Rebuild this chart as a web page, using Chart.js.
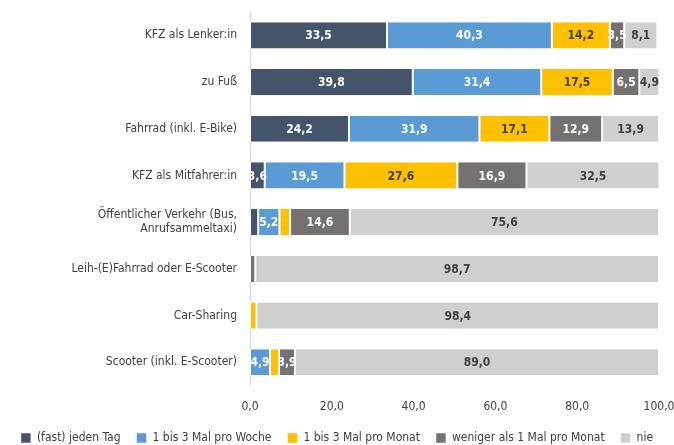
<!DOCTYPE html>
<html>
<head>
<meta charset="utf-8">
<script src="https://cdn.jsdelivr.net/npm/chart.js@4.4.0/dist/chart.umd.min.js"></script>
<style>
  html, body { margin: 0; padding: 0; background: #fff; }
  #wrap { width: 674px; height: 445px; }
</style>
</head>
<body>
<div id="wrap"><canvas id="c"></canvas></div>
<script>
const categories = [
  "KFZ als Lenker:in",
  "zu Fuß",
  "Fahrrad (inkl. E-Bike)",
  "KFZ als Mitfahrer:in",
  ["Öffentlicher Verkehr (Bus,", "Anrufsammeltaxi)"],
  "Leih-(E)Fahrrad oder E-Scooter",
  "Car-Sharing",
  "Scooter (inkl. E-Scooter)"
];
const seriesNames = ["(fast) jeden Tag", "1 bis 3 Mal pro Woche", "1 bis 3 Mal pro Monat", "weniger als 1 Mal pro Monat", "nie"];
const daily   = [33.5, 39.8, 24.2, 3.6, 2.0, 0,   0,   0];
const weekly  = [40.3, 31.4, 31.9, 19.5, 5.2, 0,   0,   4.9];
const monthly = [14.2, 17.5, 17.1, 27.6, 2.6, 0,   1.6, 2.2];
const rarely  = [3.5,  6.5,  12.9, 16.9, 14.6, 1.3, 0,   3.9];
const never   = [8.1,  4.9,  13.9, 32.5, 75.6, 98.7, 98.4, 89.0];
const xTicks = [0, 20, 40, 60, 80, 100];

const colors = ["#44546a", "#5b9bd5", "#ffc000", "#767171", "#d0cece"];
const labelColors = ["#ffffff", "#ffffff", "#404040", "#ffffff", "#404040"];
const FONT = "'DejaVu Sans Condensed', sans-serif";

const fmt = v => v.toFixed(1).replace(".", ",");

const valueLabels = {
  id: "valueLabels",
  afterDatasetsDraw(chart) {
    const ctx = chart.ctx;
    ctx.save();
    ctx.font = "bold 12px " + FONT;
    ctx.textAlign = "center";
    ctx.textBaseline = "middle";
    chart.data.datasets.forEach((ds, i) => {
      const meta = chart.getDatasetMeta(i);
      meta.data.forEach((bar, j) => {
        const v = ds.data[j];
        if (v < 3) return;
        ctx.fillStyle = labelColors[i];
        ctx.fillText(fmt(v), (bar.x + bar.base) / 2, bar.y + 1);
      });
    });
    ctx.restore();
  }
};

Chart.defaults.font.family = FONT;
Chart.defaults.font.size = 12;
Chart.defaults.color = "#404040";

const chart = new Chart(document.getElementById("c"), {
  type: "bar",
  data: {
    labels: categories,
    datasets: [daily, weekly, monthly, rarely, never].map((d, i) => ({
      label: seriesNames[i],
      data: d,
      backgroundColor: colors[i],
      borderColor: "#ffffff",
      borderWidth: { left: 1, right: 1 },
      borderSkipped: false,
      barPercentage: 0.56,
      categoryPercentage: 1
    }))
  },
  options: {
    indexAxis: "y",
    responsive: true,
    maintainAspectRatio: false,
    animation: false,
    layout: { padding: { top: 12, right: 0, left: 0, bottom: 2 } },
    scales: {
      x: {
        stacked: true,
        min: 0,
        max: 100,
        afterBuildTicks: s => { s.ticks = xTicks.map(v => ({ value: v })); },
        afterFit: s => { s.paddingRight = 15; s.paddingLeft = 0; },
        grid: { display: false, drawTicks: false },
        border: { display: false },
        ticks: { callback: v => fmt(v), padding: 14, maxRotation: 0, color: "#404040" }
      },
      y: {
        stacked: true,
        afterFit: s => { s.width = 250; s.paddingTop = 0; s.paddingBottom = 0; },
        grid: { display: false, drawTicks: false },
        border: { display: true, color: "#d9d9d9", width: 1 },
        ticks: { padding: 13, color: "#404040" }
      }
    },
    plugins: {
      legend: {
        position: "bottom",
        labels: { boxWidth: 10, boxHeight: 10, padding: 16, color: "#404040" }
      },
      tooltip: { enabled: false }
    }
  },
  plugins: [valueLabels]
});

// give the axis more room, then draw the legend row a bit higher
const legendFit = chart.legend.fit;
chart.legend.fit = function () {
  legendFit.call(this);
  this.height -= 23;
};
const legendDraw = chart.legend.draw;
chart.legend.draw = function () {
  const t = this.top, b = this.bottom;
  this.top = t - 12;
  this.bottom = t + 60;
  legendDraw.call(this);
  this.top = t;
  this.bottom = b;
};
chart.update();
</script>
</body>
</html>
